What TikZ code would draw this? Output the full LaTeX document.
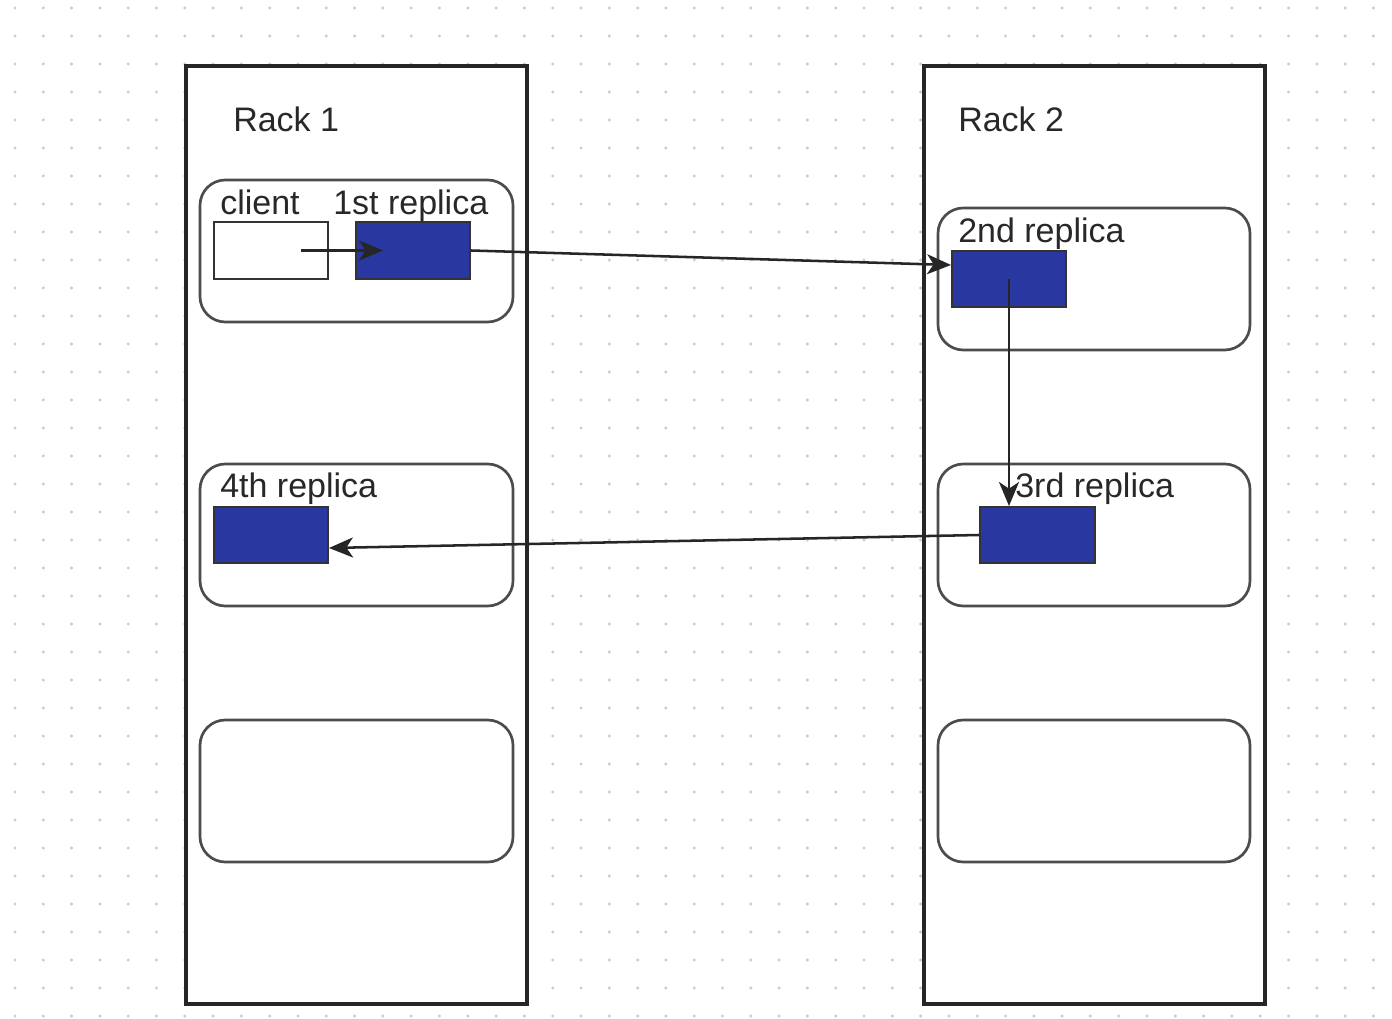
\documentclass[tikz,border=0pt]{standalone}
\usepackage{fontspec}
\setmainfont{Liberation Sans}
\usetikzlibrary{arrows.meta,fit,calc}
\definecolor{blockblue}{RGB}{41,56,160}
\definecolor{dotgray}{RGB}{205,205,205}
\definecolor{txtgray}{RGB}{40,40,40}
\begin{document}
\begin{tikzpicture}[x=0.75pt,y=-0.75pt,
  rack/.style={draw=black!85, line width=2.3pt, fill=white, inner sep=0pt},
  server/.style={draw=black!70, line width=2pt, rounded corners=19pt, fill=white, inner sep=0pt},
  blk/.style={draw=black!80, line width=1.5pt, fill=blockblue, inner sep=0pt},
  cli/.style={draw=black!80, line width=1.5pt, fill=white, inner sep=0pt},
  lbl/.style={font=\fontsize{25.5}{30}\selectfont, text=txtgray, anchor=base west, inner sep=0pt},
  flow/.style={draw=black!85, line width=1.9pt, -{Stealth[length=18pt,width=15pt,inset=5pt]}}]
\useasboundingbox (0,0) rectangle (1392,1019);
\fill[white] (0,0) rectangle (1392,1019);
\foreach \i in {0,...,48}{\foreach \j in {0,...,36}{\fill[dotgray] (15+\i*28.3, 8+\j*28) circle (1.7);}}
% racks
\node[rack, fit={(186,66) (527,1004)}] (rack1) {};
\node[rack, fit={(924,66) (1265,1004)}] (rack2) {};
\node[lbl] (rack1lbl) at (233,132) {Rack 1};
\node[lbl] (rack2lbl) at (958,132) {Rack 2};
% servers
\node[server, fit={(200,180) (513,322)}] (s11) {};
\node[server, fit={(200,464) (513,606)}] (s12) {};
\node[server, fit={(200,720) (513,862)}] (s13) {};
\node[server, fit={(938,208) (1250,350)}] (s21) {};
\node[server, fit={(938,464) (1250,606)}] (s22) {};
\node[server, fit={(938,720) (1250,862)}] (s23) {};
% blocks
\node[cli, fit={(214,222) (328,279)}] (client) {};
\node[blk, fit={(356,222) (470,279)}] (r1) {};
\node[blk, fit={(952,251) (1066,307)}] (r2) {};
\node[blk, fit={(980,507) (1095,563)}] (r3) {};
\node[blk, fit={(214,507) (328,563)}] (r4) {};
% labels
\node[lbl] (clientlbl) at (220,215) {client};
\node[lbl] (r1lbl) at (333,215) {1st replica};
\node[lbl] (r2lbl) at (958,243) {2nd replica};
\node[lbl] (r3lbl) at (1015,498) {3rd replica};
\node[lbl] (r4lbl) at (220,498) {4th replica};
% arrows
\draw[flow] ($(client.east)+(-28,0)$) -- ($(r1.west)+(28,0)$);
\draw[flow] (r1.east) -- ($(r2.west)+(0,-14)$);
\draw[flow] (r2.center) -- (r2.center |- r3.north);
\draw[flow] (r3.west) -- ($(r4.east)+(0,13)$);
\end{tikzpicture}
\end{document}
